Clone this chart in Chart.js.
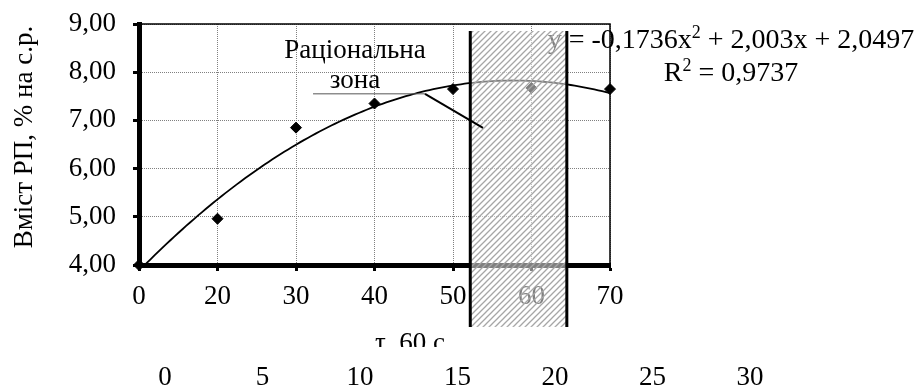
<!DOCTYPE html>
<html>
<head>
<meta charset="utf-8">
<script src="https://cdn.jsdelivr.net/npm/chart.js@4"></script>
<style>
  html, body { margin: 0; padding: 0; background: #fff; }
  #c { display: block; }
</style>
</head>
<body>
<canvas id="c" width="917" height="387"></canvas>
<script>
// Vessel residence time (τ, 60 c) and measured content, point number 1..7
const timeLabels = ['0', '20', '30', '40', '50', '60', '70'];
const contentValues = [4.00, 4.96, 6.85, 7.35, 7.65, 7.67, 7.65];
const yTickValues = [4, 5, 6, 7, 8, 9];
// polynomial trend: y = a*x^2 + b*x + c (x = point number)
const trendCoef = [-0.1736, 2.003, 2.0497];
const rSquared = '0,9737';
// rational zone, in point-number units
const rationalZone = [5.22, 6.45];
// secondary scale labels under the chart
const lowerTickLabels = [0, 5, 10, 15, 20, 25, 30];

const FONT = "'Liberation Serif', 'Times New Roman', serif";
const FS = 27;
const EQ_FS = 28;

const fmt = v => v.toFixed(2).replace('.', ',');
const fmtCoef = (v, d) => v.toFixed(d).replace('.', ',');
const trendAt = x => trendCoef[0] * x * x + trendCoef[1] * x + trendCoef[2];

const pointData = contentValues.map((v, i) => ({ x: i + 1, y: v }));
const trendData = [];
for (let k = 0; k <= 120; k++) {
  const x = 1 + k * 0.05;
  trendData.push({ x, y: trendAt(x) });
}

function hatchPattern(ctx) {
  const p = document.createElement('canvas');
  p.width = 6; p.height = 6;
  const g = p.getContext('2d');
  g.strokeStyle = '#a6a6a6';
  g.lineWidth = 1.3;
  g.beginPath();
  g.moveTo(0, 6); g.lineTo(6, 0);
  g.moveTo(-1, 1); g.lineTo(1, -1);
  g.moveTo(5, 7); g.lineTo(7, 5);
  g.stroke();
  return ctx.createPattern(p, 'repeat');
}

// text with a superscript piece, centred on cx
function drawSupLine(ctx, parts, cx, baseline, size) {
  const big = size + 'px ' + FONT;
  const small = Math.round(size * 0.66) + 'px ' + FONT;
  let total = 0;
  parts.forEach(p => { ctx.font = p.sup ? small : big; total += ctx.measureText(p.t).width; });
  let x = cx - total / 2;
  parts.forEach(p => {
    ctx.font = p.sup ? small : big;
    ctx.fillText(p.t, x, p.sup ? baseline - size * 0.36 : baseline);
    x += ctx.measureText(p.t).width;
  });
}

const decor = {
  id: 'decor',
  afterDraw(chart) {
    const { ctx, chartArea: a, scales } = chart;
    const xs = scales.x, ys = scales.y, xl = scales.xLower;
    ctx.save();

    // thin frame on top and right
    ctx.strokeStyle = '#000';
    ctx.lineWidth = 1.5;
    ctx.beginPath();
    ctx.moveTo(a.left, a.top);
    ctx.lineTo(a.right, a.top);
    ctx.lineTo(a.right, a.bottom);
    ctx.stroke();

    ctx.fillStyle = '#000';
    ctx.textAlign = 'left';
    ctx.textBaseline = 'alphabetic';

    // trend equation
    const c = trendCoef;
    drawSupLine(ctx, [
      { t: 'y = ' + fmtCoef(c[0], 4) + 'x' },
      { t: '2', sup: true },
      { t: ' + ' + fmtCoef(c[1], 3) + 'x + ' + fmtCoef(c[2], 4) }
    ], 731, 48, EQ_FS);
    drawSupLine(ctx, [
      { t: 'R' },
      { t: '2', sup: true },
      { t: ' = ' + rSquared }
    ], 731, 81, EQ_FS);

    // y axis title
    ctx.save();
    ctx.font = FS + 'px ' + FONT;
    ctx.translate(32, 137);
    ctx.rotate(-Math.PI / 2);
    ctx.textAlign = 'center';
    ctx.fillText('Вміст РП, % на с.р.', 0, 0);
    ctx.restore();

    // x axis title, cut by the lower label band
    ctx.save();
    ctx.beginPath();
    ctx.rect(0, 0, chart.width, 347);
    ctx.clip();
    ctx.font = FS + 'px ' + FONT;
    ctx.textAlign = 'center';
    ctx.fillText('τ, 60 с', 410, 351);
    ctx.restore();

    // lower scale labels
    ctx.font = FS + 'px ' + FONT;
    ctx.textAlign = 'center';
    lowerTickLabels.forEach(v => {
      ctx.fillText(String(v), xl.getPixelForValue(v), 385);
    });

    // zone label
    ctx.fillText('Раціональна', 355, 58);
    ctx.fillText('зона', 355, 88);

    // hatched rational zone
    const zx1 = xs.getPixelForValue(rationalZone[0]);
    const zx2 = xs.getPixelForValue(rationalZone[1]);
    const zy1 = ys.getPixelForValue(8.855);
    const zy2 = ys.getPixelForValue(2.716);
    ctx.fillStyle = 'rgba(255,255,255,0.5)';
    ctx.fillRect(zx1, zy1, zx2 - zx1, zy2 - zy1);
    ctx.fillStyle = hatchPattern(ctx);
    ctx.fillRect(zx1, zy1, zx2 - zx1, zy2 - zy1);
    ctx.strokeStyle = '#000';
    ctx.lineWidth = 3;
    ctx.beginPath();
    ctx.moveTo(zx1, zy1); ctx.lineTo(zx1, zy2);
    ctx.moveTo(zx2, zy1); ctx.lineTo(zx2, zy2);
    ctx.stroke();

    // leader line of the zone label
    const ly = ys.getPixelForValue(7.551);
    ctx.strokeStyle = '#555';
    ctx.lineWidth = 1;
    ctx.beginPath();
    ctx.moveTo(xs.getPixelForValue(3.217), ly);
    ctx.lineTo(xs.getPixelForValue(4.643), ly);
    ctx.stroke();
    ctx.strokeStyle = '#000';
    ctx.lineWidth = 2;
    ctx.beginPath();
    ctx.moveTo(xs.getPixelForValue(4.643), ly);
    ctx.lineTo(xs.getPixelForValue(5.382), ys.getPixelForValue(6.847));
    ctx.stroke();

    ctx.restore();
  }
};

const gridCommon = {
  color: '#808080',
  lineWidth: 1,
  tickLength: 6,
  tickWidth: 3,
  tickColor: '#000',
  tickBorderDash: []
};

new Chart(document.getElementById('c'), {
  type: 'scatter',
  data: {
    datasets: [
      {
        data: trendData,
        showLine: true,
        borderColor: '#000',
        borderWidth: 1.8,
        pointRadius: 0,
        tension: 0
      },
      {
        data: pointData,
        pointStyle: 'rectRot',
        pointRadius: 5.5,
        backgroundColor: '#000',
        borderColor: '#000',
        borderWidth: 1,
        clip: 8
      }
    ]
  },
  options: {
    responsive: false,
    animation: false,
    devicePixelRatio: 1,
    layout: { padding: { left: 0, top: 24, right: 307, bottom: 0 } },
    plugins: { legend: { display: false }, tooltip: { enabled: false } },
    scales: {
      x: {
        type: 'linear',
        min: 1, max: 7,
        afterFit: s => { s.height = 122; s.paddingLeft = 0; s.paddingRight = 0; },
        afterBuildTicks: s => { s.ticks = timeLabels.map((_, i) => ({ value: i + 1 })); },
        ticks: {
          callback: v => timeLabels[v - 1],
          color: '#000',
          font: { family: FONT, size: FS },
          padding: 10,
          maxRotation: 0,
          autoSkip: false
        },
        grid: gridCommon,
        border: { color: '#000', width: 5, dash: [1, 1] }
      },
      xLower: {
        type: 'linear',
        display: false,
        min: -1.333, max: 22.82
      },
      y: {
        min: 4, max: 9,
        afterFit: s => { s.width = 139; s.paddingTop = 0; s.paddingBottom = 0; },
        afterBuildTicks: s => { s.ticks = yTickValues.map(v => ({ value: v })); },
        ticks: {
          callback: v => fmt(v),
          color: '#000',
          font: { family: FONT, size: FS },
          padding: 17
        },
        grid: gridCommon,
        border: { color: '#000', width: 5, dash: [1, 1] }
      }
    }
  },
  plugins: [decor]
});
</script>
</body>
</html>
